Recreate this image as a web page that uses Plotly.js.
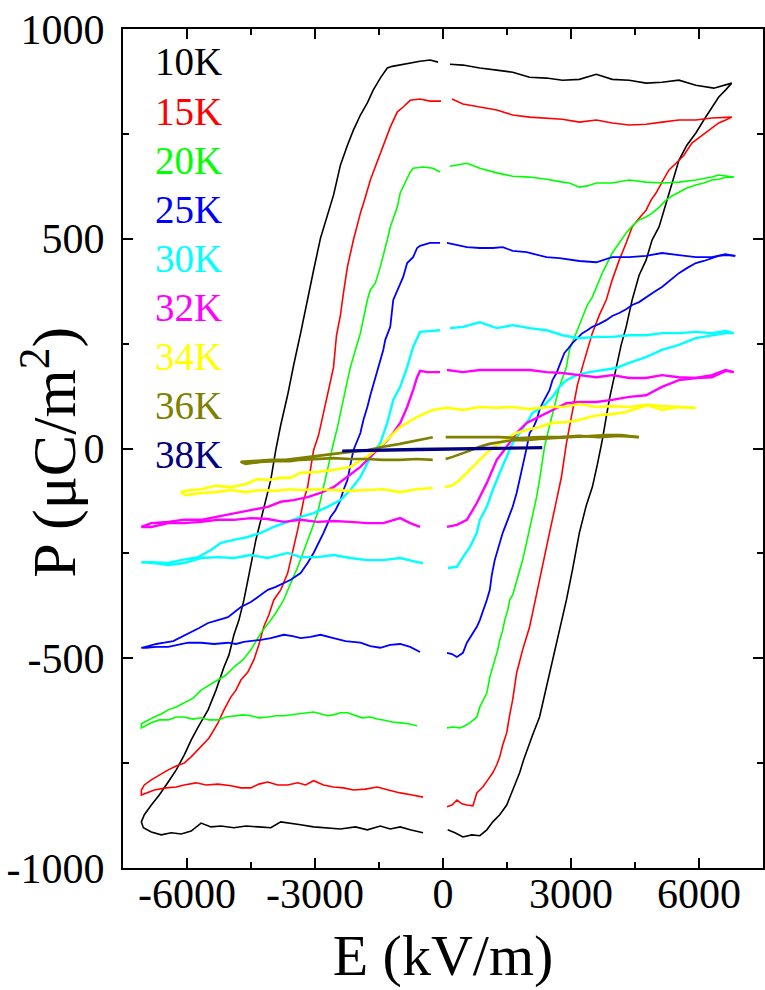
<!DOCTYPE html>
<html>
<head>
<meta charset="utf-8">
<script src="https://cdn.plot.ly/plotly-3.0.1.min.js"></script>
<style>html,body{margin:0;padding:0;background:#fff;}#chart{width:765px;height:990px;}</style>
</head>
<body>
<div id="chart"></div>
<script>
// ---- data (E in kV/m, P in uC/m^2); null = gap in the measured branch ----
const temps = ['10K','15K','20K','25K','30K','32K','34K','36K','38K'];

const e10 = [6766,6346,5926,5529,5133,4760,4363,3966,3593,3196,2800,2426,2030,1633,1260,863,467,163,null,
 -117,-303,-537,-770,-1003,-1190,-1306,-1470,-1633,-1773,-1936,-2100,-2240,-2403,-2566,-2706,-2870,-3033,-3173,-3337,-3500,-3640,-3803,-3920,-4036,-4200,-4386,-4550,-4666,-4783,-4900,-5016,-5133,-5320,-5506,-5740,-5903,-6066,-6253,-6440,-6650,-6836,-7000,-7070,-7023,-6836,
 -6603,-6370,-6136,-5903,-5670,-5436,-5203,-4900,-4620,-4316,-4036,-3803,-3570,-3337,-3033,-2753,-2403,-2053,-1773,-1470,-1236,-1003,-770,-467,null,
 110,280,467,677,863,1027,1167,1330,1493,1633,1796,1890,1983,2100,2263,2426,2543,2660,2776,2893,3033,3196,3360,3500,3616,3733,3896,4060,4176,4293,4433,4596,4760,4900,5063,5180,5296,5413,5529,5716,5926,6113,6300,6463,6626,6766];
const p10 = [871,859,866,878,873,871,878,880,892,880,878,883,885,897,902,907,914,916,null,
 921,926,923,919,914,911,907,883,855,824,795,759,723,676,604,556,502,425,354,275,199,128,56,-4,-75,-139,-218,-302,-361,-409,-444,-492,-521,-576,-623,-664,-695,-731,-766,-795,-826,-850,-873,-890,-904,-914,
 -921,-916,-919,-912,-893,-902,-900,-904,-900,-902,-904,-890,-893,-897,-902,-904,-907,-902,-909,-900,-907,-902,-909,-916,null,
 -909,-916,-926,-921,-923,-909,-890,-873,-850,-814,-773,-742,-714,-683,-640,-568,-516,-464,-409,-361,-290,-201,-135,-92,-39,20,116,194,247,290,354,413,449,497,528,568,609,652,687,723,752,783,814,838,855,871];

const e15 = [6766,6300,5926,5529,5133,4760,4363,3966,3593,3196,2800,2426,2030,1633,1260,863,467,210,null,
 -47,-303,-537,-770,-933,-1073,-1236,-1353,-1470,-1586,-1703,-1820,-1936,-2100,-2240,-2333,-2403,-2496,-2566,-2683,-2823,-2916,-3033,-3103,-3173,-3266,-3337,-3406,-3500,-3640,-3803,-3966,-4083,-4200,-4316,-4433,-4573,-4736,-4853,-4970,-5133,-5273,-5483,-5740,-5903,-6066,-6253,-6440,-6650,-6836,-7000,-7070,-7070,-6953,
 -6766,-6486,-6253,-6066,-5786,-5553,-5273,-4970,-4736,-4503,-4316,-4106,-3873,-3640,-3406,-3220,-3033,-2800,-2566,-2333,-2100,-1820,-1540,-1283,-1003,-723,-467,null,
 93,210,327,443,560,700,793,933,1050,1167,1260,1330,1400,1493,1563,1633,1726,1796,1866,1960,2030,2100,2193,2333,2496,2636,2776,2893,3033,3150,3266,3383,3500,3663,3826,3966,4130,4293,4433,4596,4760,4876,4993,5133,5296,5460,5646,5833,5996,6160,6300,6463,6626,6766];
const p15 = [790,788,783,783,778,773,771,776,783,778,785,788,790,795,807,814,821,833,null,
 828,828,833,830,814,802,766,735,699,671,640,599,561,497,433,371,318,270,194,139,75,32,-4,-51,-92,-123,-163,-194,-235,-297,-337,-361,-397,-425,-468,-504,-533,-552,-576,-592,-623,-654,-690,-718,-735,-750,-757,-766,-778,-790,-802,-814,-826,-821,
 -814,-809,-807,-802,-797,-802,-800,-804,-809,-809,-800,-795,-802,-802,-797,-802,-792,-802,-807,-809,-814,-812,-807,-814,-821,-826,-831,null,
 -854,-850,-838,-847,-850,-852,-821,-807,-790,-773,-754,-735,-707,-678,-635,-599,-535,-504,-480,-449,-425,-392,-349,-278,-201,-135,-68,13,92,151,194,235,275,318,354,402,449,490,528,549,568,592,609,635,664,680,699,728,740,752,764,776,783,790];

const e20 = [6813,6463,6300,5926,5529,5133,4760,4363,3966,3593,3383,3196,2963,2800,2426,2030,1633,1260,863,560,327,163,null,
 -70,-233,-467,-700,-770,-886,-1003,-1073,-1236,-1306,-1400,-1470,-1586,-1703,-1773,-1866,-1936,-2053,-2170,-2263,-2333,-2403,-2473,-2566,-2636,-2706,-2800,-2870,-2940,-3056,-3173,-3290,-3406,-3570,-3733,-3920,-4036,-4270,-4503,-4690,-4900,-5086,-5273,-5483,-5670,-5856,-6066,-6253,-6440,-6603,-6766,-6953,-7070,-7070,
 -6836,-6650,-6440,-6253,-6066,-5856,-5670,-5483,-5273,-5086,-4900,-4690,-4503,-4316,-4106,-3920,-3733,-3523,-3337,-3173,-3033,-2870,-2706,-2566,-2403,-2240,-2053,-1890,-1703,-1540,-1400,-1190,-1003,-816,-607,null,
 93,233,397,513,630,723,793,863,957,1027,1097,1167,1213,1283,1330,1400,1447,1517,1563,1633,1750,1866,1983,2100,2193,2263,2380,2473,2566,2660,2730,2893,2963,3126,3266,3383,3500,3616,3733,3850,3966,4130,4293,4433,4596,4760,4900,5063,5226,5366,5529,5716,5926,6113,6300,6463,6650,6813];
const p20 = [647,652,647,640,635,633,635,640,633,633,626,623,633,635,642,647,649,657,668,680,676,673,null,
 659,668,671,668,659,635,609,575,528,497,456,433,394,378,354,306,275,235,194,151,116,85,51,13,-20,-56,-92,-123,-154,-187,-218,-250,-283,-321,-361,-392,-409,-440,-480,-504,-521,-540,-552,-566,-576,-595,-607,-616,-623,-633,-640,-649,-656,-666,
 -654,-647,-647,-640,-640,-645,-642,-647,-647,-640,-637,-635,-637,-642,-640,-637,-637,-635,-633,-630,-628,-633,-637,-635,-630,-630,-637,-642,-640,-645,-647,-652,-654,-656,-661,null,
 -666,-664,-666,-661,-654,-647,-640,-616,-599,-583,-545,-523,-504,-480,-457,-433,-409,-385,-361,-349,-309,-266,-213,-163,-116,-75,4,44,85,120,147,194,235,275,313,342,361,390,418,442,466,490,514,530,545,552,561,575,592,602,611,621,628,633,640,642,647,647];

const e25 = [6850,6616,6300,5926,5529,5133,4760,4363,3966,3593,3196,2730,2426,1960,1633,1400,1167,863,560,280,93,null,
 -70,-303,-537,-607,-700,-840,-933,-1073,-1166,-1236,-1353,-1400,-1516,-1633,-1703,-1773,-1866,-1936,-2100,-2170,-2240,-2333,-2403,-2520,-2636,-2800,-2916,-3033,-3173,-3337,-3570,-3733,-3920,-4106,-4340,-4503,-4736,-4900,-5040,-5273,-5506,-5716,-5903,-6136,-6323,-6533,-6720,-6906,-7070,
 -6953,-6720,-6440,-6206,-5973,-5670,-5366,-5040,-4853,-4666,-4456,-4270,-4036,-3733,-3523,-3337,-3103,-2870,-2566,-2286,-1936,-1703,-1470,-1236,-1003,-770,-537,null,
 93,210,327,467,560,630,700,793,863,933,1027,1097,1143,1213,1307,1400,1517,1633,1726,1796,1913,1960,2030,2123,2193,2263,2333,2426,2496,2566,2660,2753,2846,2940,3033,3150,3266,3383,3500,3663,3826,3966,4130,4293,4433,4596,4760,4946,5133,5343,5529,5716,5926,6113,6300,6463,6626,6850];
const p25 = [459,463,456,456,461,466,459,456,456,444,447,454,456,468,471,480,478,478,480,487,490,null,
 490,490,483,478,456,442,409,378,354,290,259,235,194,156,127,99,68,37,-4,-39,-75,-99,-123,-147,-163,-201,-225,-249,-273,-297,-313,-321,-330,-337,-354,-366,-378,-390,-402,-409,-416,-428,-437,-449,-459,-463,-466,-471,-475,
 -475,-473,-473,-468,-463,-463,-466,-463,-466,-461,-459,-456,-452,-444,-447,-452,-449,-444,-452,-459,-463,-471,-475,-468,-466,-473,-485,null,
 -487,-490,-497,-487,-463,-452,-440,-425,-409,-390,-361,-337,-302,-266,-230,-201,-170,-139,-106,-75,-20,1,37,51,68,92,108,127,139,163,180,204,228,239,251,263,275,282,290,297,306,316,323,332,342,349,361,373,385,402,418,430,442,447,454,459,461,459];

const e30 = [6813,6626,6300,5926,5529,5133,4760,4363,3966,3593,3196,2800,2426,2030,1633,1260,863,467,163,null,
 -70,-303,-537,-700,-840,-1003,-1166,-1306,-1470,-1633,-1773,-1936,-2170,-2403,-2706,-3033,-3337,-3640,-3966,-4270,-4573,-4900,-5203,-5436,-5740,-6136,-6440,-6836,-7070,
 -6766,-6440,-6066,-5670,-5273,-4900,-4503,-4106,-3640,-3337,-2940,-2566,-2170,-1773,-1400,-1003,-607,-467,null,
 117,327,467,630,793,863,1027,1167,1330,1493,1633,1796,1960,2100,2333,2566,2730,2893,3126,3430,3733,4060,4363,4760,5133,5529,5926,6300,6626,6813];
const p30 = [275,280,275,278,275,275,270,270,266,266,263,270,282,287,294,287,301,290,287,null,
 282,280,278,242,194,147,116,61,13,-11,-35,-68,-99,-123,-139,-154,-163,-175,-187,-201,-211,-218,-225,-242,-259,-266,-273,-271,-271,
 -273,-278,-273,-261,-259,-261,-254,-261,-249,-259,-259,-254,-261,-266,-266,-261,-271,-273,null,
 -285,-282,-259,-235,-201,-170,-139,-99,-58,-20,13,37,61,85,99,123,147,163,175,182,187,192,204,218,235,247,263,270,275,275];

const e32 = [6813,6626,6300,5926,5529,5133,4760,4363,3966,3593,3196,2800,2426,2030,1633,1260,863,467,93,null,
 -70,-373,-537,-607,-700,-840,-1003,-1166,-1306,-1470,-1703,-1936,-2240,-2566,-2870,-3173,-3500,-3803,-4106,-4503,-4900,-5273,-5670,-6066,-6440,-6836,-7070,
 -6836,-6440,-6066,-5670,-5273,-4900,-4503,-4106,-3733,-3337,-2940,-2566,-2170,-1773,-1400,-1003,-770,-537,null,
 93,327,560,793,1027,1260,1493,1726,1960,2193,2566,2893,3196,3593,3966,4363,4760,5133,5529,5926,6300,6626,6813];
const p32 = [182,185,170,168,170,175,168,168,175,170,175,180,182,187,187,187,187,182,187,null,
 182,182,185,170,139,99,61,37,20,4,-20,-44,-68,-92,-106,-116,-123,-127,-139,-147,-154,-163,-170,-170,-175,-178,-187,
 -187,-178,-178,-175,-170,-170,-166,-168,-175,-170,-175,-173,-175,-178,-178,-166,-178,-187,null,
 -187,-182,-170,-130,-82,-27,4,37,61,73,92,108,111,111,116,123,127,147,163,168,175,187,182];

const e34 = [5916,5520,5133,4760,4363,3966,3593,3196,2800,2426,2030,1633,1260,863,460,86,-241,-614,-1010,-1243,-1477,-1780,-2177,-2574,-2947,-3344,-3577,-3810,-4090,-4347,-4627,-4977,-5327,-5677,-5910,-6143,
 -6026,-5677,-5327,-4977,-4627,-4277,-3927,-3577,-3344,-2947,-2574,-2177,-1780,-1407,-1010,-614,-241,null,
 40,203,390,553,693,856,1020,1160,1323,1510,1720,1953,2256,2560,2886,3196,3430,3663,3966,4293,4596,4830,5133,5520,5916];
const p34 = [97,99,92,104,99,101,99,106,99,99,94,99,97,99,92,97,92,75,51,27,4,-20,-44,-51,-56,-58,-70,-70,-75,-73,-85,-92,-89,-97,-99,-104,
 -111,-106,-104,-99,-104,-99,-101,-97,-99,-97,-99,-101,-99,-97,-104,-97,-94,null,
 -92,-89,-75,-58,-44,-27,-11,1,13,25,37,44,51,61,63,68,75,80,82,87,97,104,101,99,97];

const e36 = [4589,4123,3656,3190,2723,2256,1790,1323,856,389,63,null,
 -240,-660,-1010,-1407,-1780,-2177,-2574,-2947,-3344,-3693,-4043,-4393,-4743,
 -4627,-4277,-3927,-3577,-3344,-2947,-2574,-2177,-1780,-1407,-1010,-614,-241,null,
 63,226,553,856,1090,1323,1626,1953,2256,2653,3026,3423,3820,4193,4589];
const p36 = [27,30,27,30,27,27,25,27,27,27,27,null,
 27,18,11,4,-4,-8,-13,-18,-23,-27,-27,-30,-32,
 -37,-32,-30,-30,-27,-25,-23,-25,-25,-27,-27,-25,-27,null,
 -25,-20,-8,4,11,15,20,20,23,25,27,30,32,32,27];

const e38 = [-2363,-1800,-1200,-600,0,600,1200,1800,2326,1800,1200,600,0,-600,-1200,-1800,-2363];
const p38 = [-6,-4,-3,-2,-1,0,1,2,2,1,0,-1,-2,-3,-4,-5,-6];

const xTickVals = [-6000,-3000,0,3000,6000];
const xTickText = ['-6000','-3000','0','3000','6000'];
const xMinorVals = [-4500,-1500,1500,4500];
const yTickVals = [-1000,-500,0,500,1000];
const yTickText = ['-1000','-500','0','500','1000'];
const yMinorVals = [-750,-250,250,750];

// ---- styles ----
const colors = ['#000000','#ff0000','#00ff00','#0000ff','#00ffff','#ff00ff','#ffff00','#808000','#000080'];
const widths = [1.6,1.6,1.6,1.8,2.4,2.4,2.6,2.6,3];

const E = [e10,e15,e20,e25,e30,e32,e34,e36,e38];
const P = [p10,p15,p20,p25,p30,p32,p34,p36,p38];

const FONT = 'Liberation Serif, Times New Roman, serif';

const traces = temps.map((t,i) => ({
  x: E[i], y: P[i], name: t, type: 'scatter', mode: 'lines',
  line: {color: colors[i], width: widths[i]}, connectgaps: false, hoverinfo: 'skip'
}));

// plot area in pixels: left 123, right 763, top 29, bottom 868
const annotations = temps.map((t,i) => ({
  xref: 'paper', yref: 'paper', x: 0.047, y: (868 - (62 + i*49.1)) / 839,
  xanchor: 'left', yanchor: 'middle', showarrow: false, text: t,
  font: {family: FONT, size: 39, color: colors[i]}
}));
annotations.push({
  xref: 'paper', yref: 'paper', x: (50 - 123) / 640, y: 0.495,
  xanchor: 'center', yanchor: 'middle', showarrow: false, textangle: -90,
  text: 'P (\u03bcC/m<sup>2</sup>)', font: {family: FONT, size: 62, color: '#000'}
});

const axisCommon = {
  showgrid: false, zeroline: false, showline: true, linecolor: '#000', linewidth: 2,
  mirror: 'ticks', ticks: 'inside', ticklen: 10, tickwidth: 2, tickcolor: '#000',
  tickfont: {family: FONT, size: 42, color: '#000'}
};

const layout = {
  width: 765, height: 990,
  margin: {l: 123, r: 2, t: 29, b: 122},
  paper_bgcolor: '#fff', plot_bgcolor: '#fff',
  showlegend: false,
  xaxis: Object.assign({}, axisCommon, {
    range: [-7500, 7500], tickmode: 'array', tickvals: xTickVals, ticktext: xTickText,
    ticklabelstandoff: -12,
    minor: {tickmode: 'array', tickvals: xMinorVals, ticks: 'inside', ticklen: 6, tickwidth: 2, tickcolor: '#000', showgrid: false},
    title: {text: 'E (kV/m)', font: {family: FONT, size: 58, color: '#000'}, standoff: 18}
  }),
  yaxis: Object.assign({}, axisCommon, {
    range: [-1000, 1000], tickmode: 'array', tickvals: yTickVals, ticktext: yTickText,
    ticklabelstandoff: 8,
    minor: {tickmode: 'array', tickvals: yMinorVals, ticks: 'inside', ticklen: 6, tickwidth: 2, tickcolor: '#000', showgrid: false}
  }),
  annotations: annotations
};

Plotly.newPlot('chart', traces, layout, {staticPlot: true, displayModeBar: false});
</script>
</body>
</html>
